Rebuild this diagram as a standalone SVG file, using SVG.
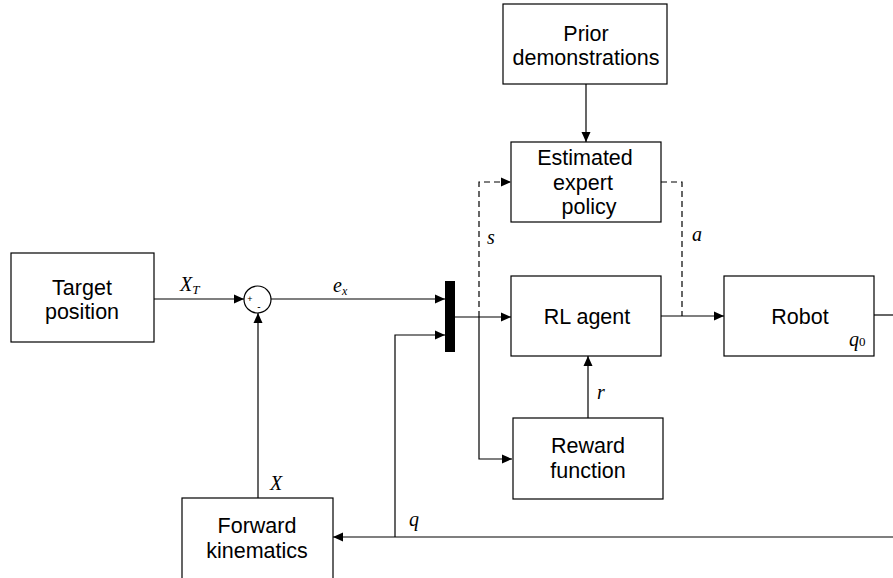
<svg xmlns="http://www.w3.org/2000/svg" width="893" height="578" viewBox="0 0 893 578">
<defs>
<marker id="ah" viewBox="0 0 10 10" refX="10" refY="5" markerWidth="10" markerHeight="10" markerUnits="userSpaceOnUse" orient="auto">
<path d="M0,0.5 L10,5 L0,9.5 Z" fill="#000"/>
</marker>
<style>
.box{fill:#fff;stroke:#000;stroke-width:1.2}
.t{font-family:"Liberation Sans",Arial,sans-serif;font-size:21.5px;fill:#000;text-anchor:middle}
.m{font-family:"Liberation Serif","Times New Roman",serif;font-style:italic;font-size:20px;fill:#000}
.c{fill:none;stroke:#000;stroke-width:1.2}
.d{fill:none;stroke:#000;stroke-width:1.2;stroke-dasharray:6,4}
</style>
</defs>
<rect width="893" height="578" fill="#fff"/>
<g id="connectors">
<path class="c" d="M154,299 H244" marker-end="url(#ah)"/>
<path class="c" d="M271,299 H445" marker-end="url(#ah)"/>
<path class="c" d="M258,498 V313" marker-end="url(#ah)"/>
<path class="c" d="M893,537 H333" marker-end="url(#ah)"/>
<path class="c" d="M395,537 V335 H445" marker-end="url(#ah)"/>
<path class="c" d="M455,317 H511" marker-end="url(#ah)"/>
<path class="c" d="M479,317 V459 H512" marker-end="url(#ah)"/>
<path class="d" d="M479,317 V182 H511" marker-end="url(#ah)"/>
<path class="c" d="M586,84 V142" marker-end="url(#ah)"/>
<path class="d" d="M661,182 H682 V316"/>
<path class="c" d="M661,316 H724" marker-end="url(#ah)"/>
<path class="c" d="M588,418 V356" marker-end="url(#ah)"/>
<path class="c" d="M874,315 H893"/>
<rect x="445" y="281" width="10" height="71" fill="#000"/>
</g>
<g id="target">
<rect class="box" x="11" y="253" width="143" height="89"/>
<text class="t" x="82" y="295">Target</text>
<text class="t" x="82" y="319">position</text>
</g>
<g id="sum">
<circle cx="257.5" cy="299.5" r="13.5" fill="#fff" stroke="#000" stroke-width="1.2"/>
<text x="250" y="302" font-family="Liberation Sans,sans-serif" font-size="9" text-anchor="middle">+</text>
<text x="259" y="310" font-family="Liberation Sans,sans-serif" font-size="10" text-anchor="middle">-</text>
</g>
<g id="prior">
<rect class="box" x="503" y="4" width="164" height="80"/>
<text class="t" x="586" y="41">Prior</text>
<text class="t" x="586" y="65">demonstrations</text>
</g>
<g id="expert">
<rect class="box" x="511" y="142" width="150" height="80"/>
<text class="t" x="585" y="165">Estimated</text>
<text class="t" x="583" y="190">expert</text>
<text class="t" x="589" y="214">policy</text>
</g>
<g id="rl">
<rect class="box" x="511" y="276" width="150" height="80"/>
<text class="t" x="587" y="324">RL agent</text>
</g>
<g id="robot">
<rect class="box" x="724" y="276" width="150" height="80"/>
<text class="t" x="800" y="324">Robot</text>
<text class="m" x="849" y="346" font-size="17">q<tspan font-style="normal" font-size="13">0</tspan></text>
</g>
<g id="reward">
<rect class="box" x="513" y="418" width="150" height="81"/>
<text class="t" x="588" y="453">Reward</text>
<text class="t" x="588" y="478">function</text>
</g>
<g id="fk">
<rect class="box" x="182" y="498" width="151" height="90"/>
<text class="t" x="257" y="533">Forward</text>
<text class="t" x="257" y="558">kinematics</text>
</g>
<g id="labels">
<text class="m" x="180" y="291">X<tspan font-size="13" dy="3">T</tspan></text>
<text class="m" x="333" y="292">e<tspan font-size="12" dy="3">x</tspan></text>
<text class="m" x="487" y="244" font-size="19">s</text>
<text class="m" x="692" y="241" font-size="19">a</text>
<text class="m" x="597" y="399" font-size="19">r</text>
<text class="m" x="270" y="490">X</text>
<text class="m" x="409" y="526" font-size="19">q</text>
</g>
</svg>
